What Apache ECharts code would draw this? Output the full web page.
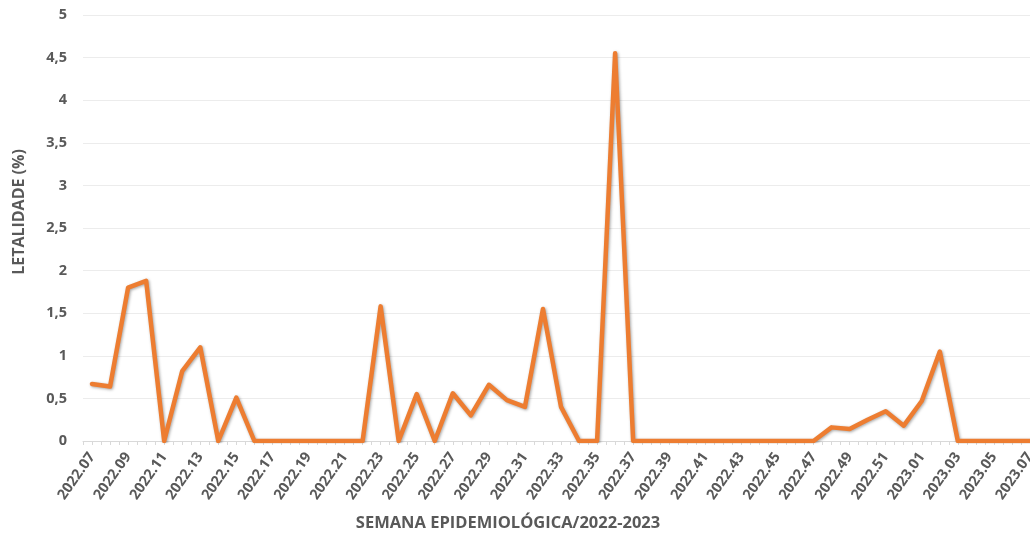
<!DOCTYPE html>
<html>
<head>
<meta charset="utf-8">
<script src="https://cdn.jsdelivr.net/npm/echarts@6/dist/echarts.min.js"></script>
<style>
html,body{margin:0;padding:0;background:#fff;}
#c{width:1030px;height:535px;}
</style>
</head>
<body>
<div id="c"></div>
<script>
var weeks = ["2022.07","2022.08","2022.09","2022.10","2022.11","2022.12","2022.13","2022.14","2022.15","2022.16",
"2022.17","2022.18","2022.19","2022.20","2022.21","2022.22","2022.23","2022.24","2022.25","2022.26",
"2022.27","2022.28","2022.29","2022.30","2022.31","2022.32","2022.33","2022.34","2022.35","2022.36",
"2022.37","2022.38","2022.39","2022.40","2022.41","2022.42","2022.43","2022.44","2022.45","2022.46",
"2022.47","2022.48","2022.49","2022.50","2022.51","2022.52","2023.01","2023.02","2023.03","2023.04",
"2023.05","2023.06","2023.07"];
var letalidade = [0.67,0.64,1.8,1.88,0,0.82,1.1,0,0.51,0,
0,0,0,0,0,0,1.58,0,0.55,0,
0.56,0.3,0.66,0.48,0.4,1.55,0.4,0,0,4.55,
0,0,0,0,0,0,0,0,0,0,
0,0.16,0.14,0.25,0.35,0.18,0.47,1.05,0,0,
0,0,0];
var yTicks = [0,0.5,1,1.5,2,2.5,3,3.5,4,4.5,5];
var yAxisTitle = "LETALIDADE (%)";
var xAxisTitle = "SEMANA EPIDEMIOLÓGICA/2022-2023";

var tickSlots = [];
for (var i = 0; i < weeks.length * 2; i++) tickSlots.push("");

var FONT = "'Open Sans', 'Liberation Sans', sans-serif";
var TXT = "#595959";
var chart = echarts.init(document.getElementById('c'));
chart.setOption({
  animation: false,
  grid: {left: 83, top: 15, width: 956, height: 426, containLabel: false, outerBoundsMode: 'none'},
  xAxis: [{
    type: 'category',
    data: weeks,
    boundaryGap: true,
    axisLine: {show: true, lineStyle: {color: '#d9d9d9', width: 1}},
    axisTick: {show: false},
    axisLabel: {
      interval: 1, rotate: 55, margin: 13, hideOverlap: false,
      color: TXT, fontFamily: FONT, fontWeight: 'bold', fontSize: 14.5
    },
    splitLine: {show: false}
  }, {
    type: 'category',
    data: tickSlots,
    position: 'bottom',
    boundaryGap: true,
    axisLine: {show: false},
    axisTick: {show: true, interval: 0, length: 4, lineStyle: {color: '#d9d9d9'}},
    axisLabel: {show: false},
    splitLine: {show: false}
  }],
  yAxis: {
    type: 'value',
    min: yTicks[0], max: yTicks[yTicks.length - 1], interval: 0.5,
    axisLine: {show: false},
    axisTick: {show: false},
    axisLabel: {
      margin: 16, color: TXT, fontFamily: FONT, fontWeight: 'bold', fontSize: 14.5,
      formatter: function (v) { return String(v).replace('.', ','); }
    },
    splitLine: {lineStyle: {color: '#ececec', width: 1}}
  },
  graphic: [{
    type: 'text', x: 19, y: 212, rotation: Math.PI / 2,
    style: {text: yAxisTitle, fill: TXT, font: "bold 16px " + FONT, textAlign: 'center', textVerticalAlign: 'middle'}
  }, {
    type: 'text', x: 508, y: 523,
    style: {text: xAxisTitle, fill: TXT, font: "bold 16.5px " + FONT, textAlign: 'center', textVerticalAlign: 'middle'}
  }],
  series: [{
    type: 'line',
    xAxisIndex: 0,
    data: letalidade,
    symbol: 'none',
    lineStyle: {color: '#ED7D31', width: 4.5, join: 'round', cap: 'round',
      shadowColor: 'rgba(0,0,0,0.35)', shadowBlur: 3, shadowOffsetX: 1, shadowOffsetY: 1}
  }]
});
</script>
</body>
</html>
